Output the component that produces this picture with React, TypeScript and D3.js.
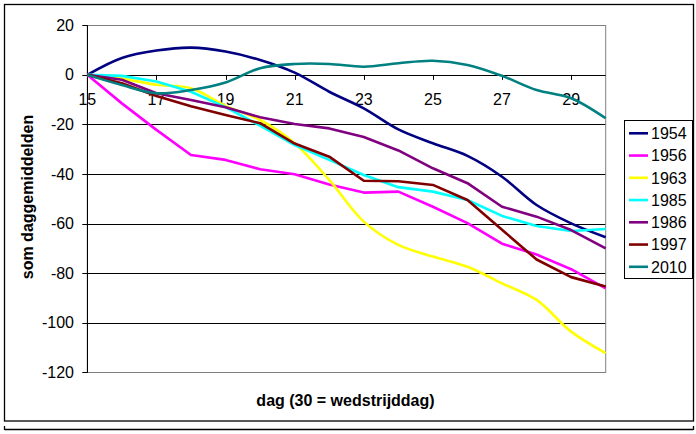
import React from "react";
import * as d3 from "d3";

const days = [15, 16, 17, 18, 19, 20, 21, 22, 23, 24, 25, 26, 27, 28, 29, 30];
const xTicks = [15, 17, 19, 21, 23, 25, 27, 29];
const yTicks = [20, 0, -20, -40, -60, -80, -100, -120];

const s1954 = [0, 6.8, 9.8, 11.0, 9.4, 6.0, 0.9, -6.8, -13.5, -22, -27.6, -32.7, -41.1, -52.5, -59.9, -65.5];
const s1956 = [0, -11.5, -22.2, -32.3, -34.3, -38.1, -40.1, -44.2, -47.5, -47.1, -53.2, -59.8, -68.1, -72.5, -78.4, -86.1];
const s1963 = [0, -1.5, -4.0, -5.4, -12.5, -18.2, -27.6, -42.4, -59.2, -68.6, -73.3, -77.4, -84.1, -90.8, -103.6, -112.3];
const s1985 = [0, -0.4, -2.7, -6.8, -13.0, -20.5, -28.3, -34.3, -40.4, -45.3, -47.1, -50.5, -56.9, -61.0, -63.0, -62.2];
const s1986 = [0, -2.0, -7.4, -10.1, -13.1, -17.1, -19.8, -21.6, -25.1, -30.5, -37.7, -43.7, -53.2, -57.2, -62.6, -70.0];
const s1997 = [0, -3.4, -8.5, -12.7, -16.2, -19.5, -27.7, -33.0, -42.7, -42.9, -44.4, -50.5, -62.5, -74.5, -81.6, -85.4];
const s2010 = [0, -4.1, -7.4, -6.1, -3.1, 2.7, 4.4, 4.4, 3.3, 4.7, 5.7, 4.0, -0.4, -6.1, -9.4, -17.5];

const seriesNames = ["1954", "1956", "1963", "1985", "1986", "1997", "2010"];
const seriesValues = [s1954, s1956, s1963, s1985, s1986, s1997, s2010];
const seriesColors = ["#000080", "#FF00FF", "#FFFF00", "#00FFFF", "#800080", "#800000", "#008080"];
const smoothSeries = ["1954", "2010", "1963"];

const FONT = "'Liberation Sans', Arial, sans-serif";

export default function App() {
  const left = 87.3, right = 605.7, top = 25.3, bottom = 372.3;
  const x = d3.scaleLinear().domain([15, 30]).range([left, right]);
  const y = d3.scaleLinear().domain([-120, 20]).range([bottom, top]);
  const y0 = y(0);

  const legX = 624, legY = 120, legW = 68, legH = 158;
  const rowH = 22.25;

  return (
    <svg width={696} height={434} style={{ position: "absolute", left: 0, top: 0, background: "#fff" }}>
      <rect x={0} y={0} width={696} height={434} fill="#fff" />
      {/* outer chart border */}
      <rect x={4.5} y={4.5} width={689} height={416.5} fill="none" stroke="#000" strokeWidth={1.3} />
      <line x1={4.5} x2={693.5} y1={429.5} y2={429.5} stroke="#000" strokeWidth={1.3} />
      <line x1={4.5} x2={4.5} y1={426} y2={430} stroke="#000" strokeWidth={1.3} />
      <line x1={693.5} x2={693.5} y1={426} y2={430} stroke="#000" strokeWidth={1.3} />

      {/* gridlines */}
      {yTicks.filter((t) => t !== 20 && t !== -120 && t !== 0).map((t) => (
        <line key={"g" + t} x1={left} x2={right} y1={Math.round(y(t)) + 0.5} y2={Math.round(y(t)) + 0.5} stroke="#000" strokeWidth={1} />
      ))}
      {/* plot border grey */}
      <rect x={left} y={Math.round(top) + 0.5} width={right - left} height={Math.round(bottom) - Math.round(top)} fill="none" stroke="#808080" strokeWidth={1} />
      {/* y axis */}
      <line x1={Math.round(left) + 0.5} x2={Math.round(left) + 0.5} y1={top} y2={bottom + 0.5} stroke="#000" strokeWidth={1} />
      {yTicks.map((t) => (
        <g key={"yt" + t}>
          <line x1={left - 5} x2={left} y1={Math.round(y(t)) + 0.5} y2={Math.round(y(t)) + 0.5} stroke="#000" strokeWidth={1} />
          <text x={74} y={y(t) + 5.5} textAnchor="end" fontFamily={FONT} fontSize={16} fill="#000">{t}</text>
        </g>
      ))}
      {/* x axis at 0 */}
      <line x1={left} x2={right} y1={Math.round(y0) + 0.5} y2={Math.round(y0) + 0.5} stroke="#000" strokeWidth={1} />
      {xTicks.map((t) => (
        <g key={"xt" + t}>
          <line x1={Math.round(x(t)) + 0.5} x2={Math.round(x(t)) + 0.5} y1={y0} y2={y0 + 5} stroke="#000" strokeWidth={1} />
          <text x={x(t)} y={105} textAnchor="middle" fontFamily={FONT} fontSize={16} fill="#000">{t}</text>
        </g>
      ))}

      {/* series */}
      {seriesNames.map((name, i) => {
        const line = d3.line<number>()
          .x((_, j) => x(days[j]))
          .y((v) => y(v))
          .curve(smoothSeries.includes(name) ? d3.curveCatmullRom.alpha(0.5) : d3.curveLinear);
        return (
          <path key={name} d={line(seriesValues[i]) || ""} fill="none" stroke={seriesColors[i]} strokeWidth={2.6} strokeLinejoin="round" />
        );
      })}

      {/* axis titles */}
      <text x={345.5} y={406} textAnchor="middle" fontFamily={FONT} fontSize={16} fontWeight="bold" fill="#000">dag (30 = wedstrijddag)</text>
      <text transform={`translate(33,197) rotate(-90)`} textAnchor="middle" fontFamily={FONT} fontSize={16} fontWeight="bold" fill="#000">som daggemiddelden</text>

      {/* legend */}
      <rect x={legX + 0.5} y={legY + 0.5} width={legW} height={legH} fill="#fff" stroke="#000" strokeWidth={1} />
      {seriesNames.map((name, i) => {
        const cy = 133.3 + i * rowH;
        return (
          <g key={"lg" + name}>
            <line x1={629} x2={648} y1={cy} y2={cy} stroke={seriesColors[i]} strokeWidth={2.6} />
            <text x={651} y={cy + 5.8} fontFamily={FONT} fontSize={16} fill="#000">{name}</text>
          </g>
        );
      })}
    </svg>
  );
}
